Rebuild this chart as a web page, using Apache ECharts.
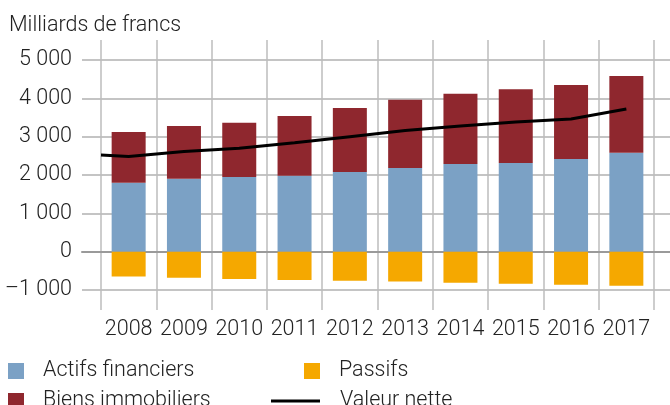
<!DOCTYPE html>
<html>
<head>
<meta charset="utf-8">
<script src="https://cdn.jsdelivr.net/npm/echarts@6/dist/echarts.min.js"></script>
<style>
  html, body { margin: 0; padding: 0; background: #fff; }
  #chart { width: 670px; height: 405px; }
</style>
</head>
<body>
<div id="chart"></div>
<script>
// Household balance sheet, billions of francs
const years = ['2008', '2009', '2010', '2011', '2012', '2013', '2014', '2015', '2016', '2017'];
const actifsFinanciers = [1800, 1900, 1950, 1980, 2080, 2180, 2290, 2310, 2420, 2580];
const biensImmobiliers = [1320, 1380, 1410, 1560, 1670, 1780, 1830, 1930, 1930, 2000];
const passifs = [-650, -680, -710, -740, -760, -780, -810, -840, -860, -890];
const valeurNette = [2480, 2610, 2700, 2840, 3000, 3160, 3280, 3380, 3460, 3720];
const valeurNetteDebut = 2520; // net worth at the start of the period
const yTicks = [-1000, 0, 1000, 2000, 3000, 4000, 5000];

const FONT = 'Roboto';
const FSIZE = 21.5;
const TEXT = '#222';
const C_FIN = '#7ba1c5';
const C_IMMO = '#8f272e';
const C_PASSIF = '#f5a800';
const C_NET = '#000';

const fmt = v => {
  const s = Math.abs(v).toString().replace(/\B(?=(\d{3})+(?!\d))/g, ' ');
  return (v < 0 ? '\u2013' : '') + s;
};

const yMin = yTicks[0], yMax = yTicks[yTicks.length - 1];
const yStep = yTicks[1] - yTicks[0];

// Net worth line runs on a continuous x scale so it can begin at the left edge
const netData = [[-0.5, valeurNetteDebut]].concat(valeurNette.map((v, i) => [i, v]));

const textStyle = { fontFamily: FONT, fontWeight: 300, fontSize: FSIZE, color: TEXT, lineHeight: 16 };

function legendItem(name, left, top, opts) {
  return Object.assign({
    data: [name],
    left: left, top: top, orient: 'horizontal', padding: 0,
    icon: 'rect', itemWidth: 16, itemHeight: 16,
    selectedMode: false,
    textStyle: Object.assign({}, textStyle, { padding: [0, 0, 0, 14] })
  }, opts || {});
}

const chart = echarts.init(document.getElementById('chart'), null, { renderer: 'canvas' });
chart.setOption({
  animation: false,
  backgroundColor: '#fff',
  title: {
    text: 'Milliards de francs', left: 9, top: 15, padding: 0,
    textStyle: { fontFamily: FONT, fontWeight: 300, fontSize: FSIZE, color: TEXT }
  },
  legend: [
    legendItem('Actifs financiers', 8, 360),
    legendItem('Biens immobiliers', 8, 390),
    legendItem('Passifs', 304, 360),
    legendItem('Valeur nette', 271, 390, {
      data: [{ name: 'Valeur nette', icon: 'rect', itemStyle: { color: C_NET, borderWidth: 0 } }],
      itemWidth: 49, itemHeight: 3,
      itemStyle: { color: C_NET },
      textStyle: Object.assign({}, textStyle, { padding: [0, 0, 0, 15] })
    })
  ],
  grid: [
    { left: 101, right: 16, top: 60, bottom: 115 },   // bars and line
    { left: 82, right: 0, top: 60, bottom: 115 },     // horizontal grid and value labels
    { left: 101, right: 16, top: 40, bottom: 95 }     // category separators and year labels
  ],
  xAxis: [
    { type: 'category', gridIndex: 0, data: years, show: false },
    { type: 'value', gridIndex: 1, min: 0, max: 1,
      axisLine: { show: true, onZero: true, lineStyle: { color: '#9a9a9a', width: 2 } },
      axisTick: { show: false }, axisLabel: { show: false }, splitLine: { show: false } },
    { type: 'category', gridIndex: 2, data: years,
      axisLine: { show: false }, axisTick: { show: false, interval: 0 },
      axisLabel: { interval: 0, margin: 9, fontFamily: FONT, fontWeight: 300, fontSize: FSIZE, color: TEXT },
      splitLine: { show: true, interval: 0, lineStyle: { color: '#bdbdbd', width: 1.5 } } },
    { type: 'value', gridIndex: 0, min: -0.5, max: years.length - 0.5, show: false }
  ],
  yAxis: [
    { type: 'value', gridIndex: 0, min: yMin, max: yMax, interval: yStep, show: false },
    { type: 'value', gridIndex: 1, min: yMin, max: yMax, interval: yStep,
      axisLine: { show: false }, axisTick: { show: false },
      axisLabel: { margin: 10, formatter: fmt, fontFamily: FONT, fontWeight: 300, fontSize: FSIZE, color: TEXT },
      splitLine: { show: true, lineStyle: { color: '#b0b0b0', width: 1.5 } } },
    { type: 'value', gridIndex: 2, min: 0, max: 1, show: false }
  ],
  series: [
    { name: 'Actifs financiers', type: 'bar', xAxisIndex: 0, yAxisIndex: 0, stack: 'bilan',
      barWidth: 34, itemStyle: { color: C_FIN }, data: actifsFinanciers },
    { name: 'Biens immobiliers', type: 'bar', xAxisIndex: 0, yAxisIndex: 0, stack: 'bilan',
      barWidth: 34, itemStyle: { color: C_IMMO }, data: biensImmobiliers },
    { name: 'Passifs', type: 'bar', xAxisIndex: 0, yAxisIndex: 0, stack: 'bilan',
      barWidth: 34, itemStyle: { color: C_PASSIF }, data: passifs },
    { name: 'Valeur nette', type: 'line', xAxisIndex: 3, yAxisIndex: 0, z: 5,
      showSymbol: false,
      lineStyle: { color: C_NET, width: 3 }, itemStyle: { color: C_NET },
      data: netData }
  ]
});
</script>
</body>
</html>
